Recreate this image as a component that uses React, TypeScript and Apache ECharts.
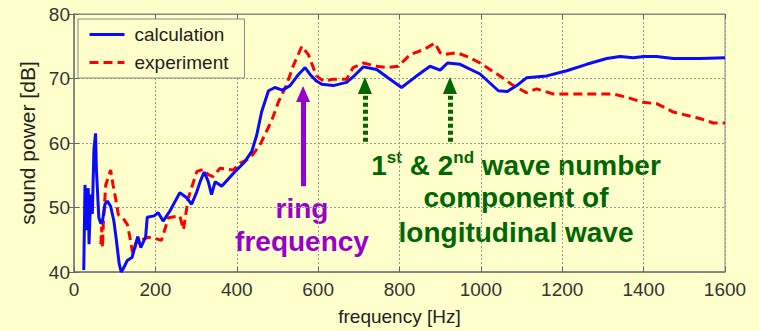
import React, { useEffect, useRef } from "react";
import * as echarts from "echarts";

const calcFreq = [24,27,31,35,37,41,45,49,53,55,57,61,66,70,76,82,90,98,104,111,116,121,131,143,152,157,164,176,180,197,207,219,236,260,277,289,301,310,320,330,338,347,363,392,420,437,449,461,478,494,512,531,550,568,582,596,609,637,670,690,711,744,770,805,840,875,900,918,949,998,1043,1065,1088,1112,1162,1211,1260,1309,1342,1375,1400,1432,1473,1538,1600];
const calcDb = [40.3,53.5,46.5,53,44.3,52,49,59,61.5,56,53.5,48.4,47.5,47.9,50.5,51,50.2,47.9,45,41.3,40,40.5,41.8,42.3,44.5,45.5,43.8,45.4,48.5,48.7,49.2,47.9,49.5,52.3,51.5,50.5,52.3,54,55.5,54,52,54,53.3,55.3,57.1,58.7,61.2,64.8,68.1,68.6,68.2,68.9,70.5,71.7,70.5,69.6,69.1,68.9,69.4,70.5,71.8,71.4,70.2,68.6,70.3,71.9,71.3,72.4,72.2,70.7,68.1,68,68.9,70.1,70.4,71.2,72.2,73.1,73.4,73.2,73.4,73.4,73.1,73.1,73.2];

const expFreq = [66,68,70,72,78,90,96,102,109,120,131,137,143,146,152,158,164,183,200,215,232,260,269,281,302,318,330,342,359,392,408,432,457,486,502,523,539,560,576,596,613,637,670,686,711,744,770,797,826,860,887,900,908,941,970,998,1047,1080,1112,1137,1178,1244,1325,1358,1399,1432,1473,1538,1571,1600];
const expDb = [44.3,47,43.8,47.4,53.5,55.8,53.5,51.5,48.9,48.4,47.4,45.5,43.3,42.8,44.3,44.9,44.9,45.4,45.2,44.9,48.4,48.7,46.6,51.5,55.6,55.9,55.1,54.8,56.1,55.8,56.9,57.6,59.7,63.5,66.3,69.1,72,75,73.7,70.4,69.6,69.9,69.9,71.7,72.4,71.9,71.7,71.9,73.7,74.5,75.5,74,73.7,74,73.3,72.4,70.4,68.9,67.8,68.4,67.6,67.6,67.6,67.1,66.3,66.1,64.8,63.8,63.1,63.1];

const seriesNames = ["calculation", "experiment"];
const ringFreq = 563;
const waveFreqs = [715, 924];

const BG = "#FFFFCC";
const PURPLE = "#9900CC";
const GREEN = "#006600";
const FONT = "'Liberation Sans', Arial, sans-serif";

export default function App() {
  const ref = useRef<HTMLDivElement>(null);
  useEffect(() => {
    if (!ref.current) return;
    const chart = echarts.init(ref.current, null, { renderer: "svg" });
    const calcData = calcFreq.map((f, i) => [f, calcDb[i]]);
    const expData = expFreq.map((f, i) => [f, expDb[i]]);
    const axisLineStyle = { color: "#777", width: 1.5 };
    const splitLine = { show: true, lineStyle: { color: "#999", type: [2, 2] as any, width: 1 } };
    const boldText = { fontFamily: FONT, fontWeight: "bold" as const, fontSize: 28 };
    const plain = (v: number) => String(v);
    chart.setOption({
      animation: false,
      backgroundColor: BG,
      grid: { left: 74, top: 14, right: 34, bottom: 56, show: true, borderColor: "#888", borderWidth: 1, backgroundColor: BG },
      legend: {
        data: seriesNames.map((n) => ({ name: n })),
        orient: "vertical",
        left: 78,
        top: 19,
        itemWidth: 35,
        itemHeight: 19,
        itemGap: 9,
        padding: [6, 16, 6, 10],
        backgroundColor: BG,
        borderColor: "#888",
        borderWidth: 1,
        itemStyle: { opacity: 0 },
        lineStyle: { width: 3 },
        textStyle: { fontFamily: FONT, fontSize: 19, color: "#222", padding: [0, 0, 0, 5] },
      },
      xAxis: [
        {
          type: "value", min: 0, max: 1600, interval: 200,
          name: "frequency [Hz]", nameLocation: "middle", nameGap: 35,
          nameTextStyle: { fontFamily: FONT, fontSize: 19, color: "#222" },
          axisLine: { show: true, lineStyle: axisLineStyle },
          axisTick: { show: true, inside: true, length: 5, lineStyle: { color: "#666" } },
          axisLabel: { fontFamily: FONT, fontSize: 19, color: "#333", margin: 8, formatter: plain },
          splitLine,
        },
        {
          type: "value", min: 0, max: 1600, interval: 200, position: "top",
          axisLine: { show: true, lineStyle: { color: "#888", width: 1 } },
          axisTick: { show: true, inside: true, length: 5, lineStyle: { color: "#666" } },
          axisLabel: { show: false }, splitLine: { show: false },
        },
      ],
      yAxis: [
        {
          type: "value", min: 40, max: 80, interval: 10,
          name: "sound power [dB]", nameLocation: "middle", nameGap: 31,
          nameTextStyle: { fontFamily: FONT, fontSize: 21, color: "#222" },
          axisLine: { show: true, lineStyle: axisLineStyle },
          axisTick: { show: true, inside: true, length: 5, lineStyle: { color: "#666" } },
          axisLabel: { fontFamily: FONT, fontSize: 19, color: "#333", margin: 4, formatter: plain },
          splitLine,
        },
        {
          type: "value", min: 40, max: 80, interval: 10, position: "right",
          axisLine: { show: true, lineStyle: { color: "#888", width: 1.5 } },
          axisTick: { show: true, inside: true, length: 5, lineStyle: { color: "#666" } },
          axisLabel: { show: false }, splitLine: { show: false },
        },
      ],
      series: [
        {
          name: seriesNames[0], type: "line", data: calcData, symbol: "none", showSymbol: false,
          xAxisIndex: 0, yAxisIndex: 0, z: 3,
          lineStyle: { color: "#0a0aff", width: 3 }, itemStyle: { color: "#0a0aff" },
          markLine: {
            silent: true, animation: false,
            symbol: ["none", "triangle"], symbolSize: [14, 16],
            label: { show: false },
            lineStyle: { color: PURPLE, width: 5, type: "solid" },
            data: [[{ coord: [ringFreq, 53.3] }, { coord: [ringFreq, 67.6] }]],
          },
        },
        {
          name: seriesNames[1], type: "line", data: expData, symbol: "none", showSymbol: false,
          xAxisIndex: 0, yAxisIndex: 0, z: 2,
          lineStyle: { color: "#ff0000", width: 3, type: [9, 5] as any }, itemStyle: { color: "#ff0000" },
          markLine: {
            silent: true, animation: false,
            symbol: ["none", "triangle"], symbolSize: [14, 17],
            label: { show: false },
            lineStyle: { color: GREEN, width: 5, type: [4, 3] as any },
            data: waveFreqs.map((f) => [{ coord: [f, 60.2] }, { coord: [f, 68.9] }]),
          },
        },
      ],
      graphic: [
        { type: "text", x: 302, y: 208, style: { text: "ring", fill: PURPLE, ...boldText, align: "center", verticalAlign: "middle" } },
        { type: "text", x: 302, y: 241, style: { text: "frequency", fill: PURPLE, ...boldText, align: "center", verticalAlign: "middle" } },
        {
          type: "text", x: 516, y: 164,
          style: {
            text: "{a|1}{s|st}{a| & 2}{s|nd}{a| wave number}",
            align: "center", verticalAlign: "middle",
            rich: {
              a: { fill: GREEN, ...boldText, lineHeight: 30, verticalAlign: "bottom" },
              s: { fill: GREEN, fontFamily: FONT, fontWeight: "bold", fontSize: 17, lineHeight: 30, verticalAlign: "top" },
            },
          },
        },
        { type: "text", x: 516, y: 197, style: { text: "component of", fill: GREEN, ...boldText, align: "center", verticalAlign: "middle" } },
        { type: "text", x: 516, y: 232, style: { text: "longitudinal wave", fill: GREEN, ...boldText, align: "center", verticalAlign: "middle" } },
      ],
    });
    return () => chart.dispose();
  }, []);
  return (
    <div
      ref={ref}
      style={{ position: "fixed", left: 0, top: 0, width: 759, height: 331, background: BG }}
    />
  );
}
